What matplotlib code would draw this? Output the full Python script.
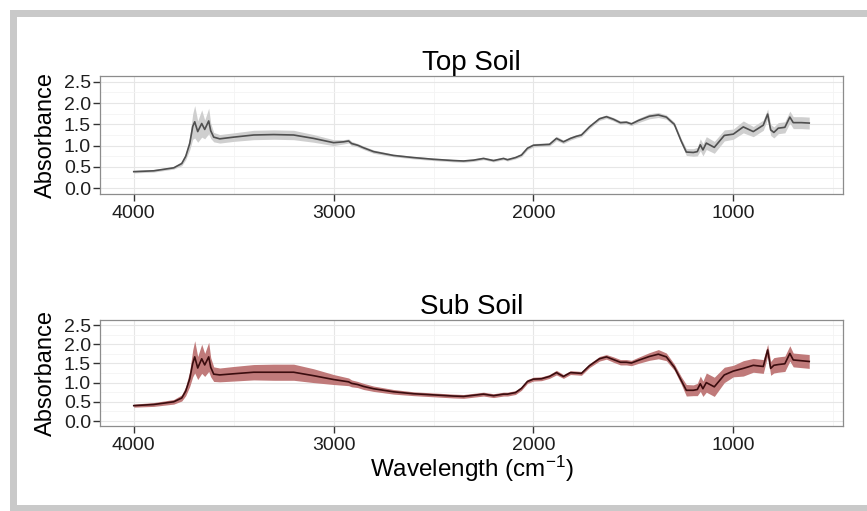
import numpy as np
import matplotlib
matplotlib.use('Agg')
import matplotlib.pyplot as plt
from matplotlib.patches import Rectangle

plt.rcParams['font.family'] = ['Liberation Sans', 'DejaVu Sans']
plt.rcParams['mathtext.fontset'] = 'custom'
plt.rcParams['mathtext.rm'] = 'Liberation Sans'
plt.rcParams['mathtext.it'] = 'Liberation Sans:italic'

# wavenumber grid (cm^-1), shared by both spectra
wavenumber = [4000, 3900, 3800, 3760, 3740, 3720, 3705, 3695, 3680, 3660,
              3645, 3625, 3615, 3600, 3570, 3500, 3400, 3300, 3200, 3100,
              3000, 2950, 2925, 2910, 2880, 2850, 2800, 2700, 2600, 2500,
              2400, 2350, 2300, 2250, 2200, 2150, 2130, 2090, 2060, 2030,
              2000, 1960, 1920, 1885, 1850, 1815, 1785, 1760, 1720, 1670,
              1635, 1600, 1565, 1535, 1510, 1475, 1420, 1375, 1335, 1295,
              1260, 1235, 1200, 1180, 1165, 1152, 1135, 1095, 1045, 1000,
              950, 900, 850, 828, 813, 797, 775, 742, 717, 700,
              660, 620]

top_mean = [0.39, 0.41, 0.48, 0.58, 0.75, 1.05, 1.45, 1.56, 1.33, 1.52,
            1.38, 1.58, 1.35, 1.20, 1.16, 1.20, 1.25, 1.26, 1.25, 1.17,
            1.07, 1.09, 1.11, 1.05, 1.01, 0.95, 0.86, 0.77, 0.72, 0.68,
            0.65, 0.64, 0.66, 0.70, 0.65, 0.70, 0.67, 0.72, 0.78, 0.94,
            1.01, 1.02, 1.03, 1.17, 1.09, 1.17, 1.22, 1.25, 1.44, 1.63,
            1.68, 1.62, 1.54, 1.55, 1.51, 1.59, 1.69, 1.72, 1.67, 1.50,
            1.10, 0.85, 0.84, 0.86, 1.02, 0.90, 1.06, 0.96, 1.24, 1.27,
            1.44, 1.33, 1.48, 1.74, 1.37, 1.31, 1.41, 1.43, 1.67, 1.54,
            1.54, 1.53]

top_sd = [0.03, 0.03, 0.03, 0.05, 0.08, 0.15, 0.30, 0.38, 0.25, 0.32,
          0.22, 0.30, 0.18, 0.11, 0.10, 0.10, 0.11, 0.11, 0.11, 0.09,
          0.07, 0.05, 0.05, 0.05, 0.04, 0.04, 0.04, 0.03, 0.03, 0.03,
          0.03, 0.03, 0.03, 0.03, 0.03, 0.03, 0.03, 0.03, 0.04, 0.04,
          0.04, 0.04, 0.04, 0.05, 0.04, 0.04, 0.04, 0.04, 0.04, 0.04,
          0.04, 0.04, 0.04, 0.04, 0.04, 0.05, 0.06, 0.06, 0.05, 0.05,
          0.06, 0.08, 0.09, 0.10, 0.14, 0.14, 0.15, 0.14, 0.13, 0.12,
          0.14, 0.12, 0.12, 0.12, 0.13, 0.13, 0.13, 0.13, 0.14, 0.14,
          0.14, 0.14]

sub_mean = [0.40, 0.43, 0.50, 0.60, 0.78, 1.10, 1.50, 1.67, 1.38, 1.62,
            1.46, 1.67, 1.40, 1.22, 1.20, 1.23, 1.27, 1.27, 1.27, 1.18,
            1.08, 1.04, 1.02, 0.98, 0.95, 0.90, 0.84, 0.76, 0.71, 0.68,
            0.65, 0.64, 0.67, 0.70, 0.66, 0.70, 0.70, 0.74, 0.85, 1.03,
            1.09, 1.10, 1.16, 1.26, 1.16, 1.26, 1.25, 1.24, 1.44, 1.62,
            1.67, 1.60, 1.53, 1.53, 1.51, 1.58, 1.68, 1.74, 1.67, 1.40,
            1.05, 0.80, 0.80, 0.82, 0.97, 0.84, 1.00, 0.89, 1.20, 1.30,
            1.37, 1.45, 1.42, 1.85, 1.37, 1.45, 1.47, 1.49, 1.76, 1.59,
            1.57, 1.55]

sub_sd = [0.04, 0.05, 0.06, 0.08, 0.12, 0.20, 0.35, 0.42, 0.30, 0.38,
          0.30, 0.38, 0.25, 0.19, 0.18, 0.19, 0.20, 0.21, 0.21, 0.18,
          0.13, 0.11, 0.10, 0.09, 0.08, 0.08, 0.07, 0.06, 0.05, 0.05,
          0.05, 0.05, 0.05, 0.05, 0.05, 0.05, 0.05, 0.05, 0.05, 0.05,
          0.05, 0.05, 0.05, 0.06, 0.05, 0.05, 0.05, 0.05, 0.05, 0.06,
          0.06, 0.07, 0.07, 0.07, 0.07, 0.08, 0.10, 0.12, 0.10, 0.08,
          0.10, 0.15, 0.14, 0.16, 0.20, 0.20, 0.25, 0.25, 0.20, 0.15,
          0.20, 0.18, 0.18, 0.15, 0.18, 0.20, 0.20, 0.20, 0.20, 0.18,
          0.18, 0.18]

panels = [
    ('Top Soil', top_mean, top_sd, '#4f4f4f', '#cfcfcf'),
    ('Sub Soil', sub_mean, sub_sd, '#3a0c0e', '#c07a7a'),
]

W, H = 867, 511
fig = plt.figure(figsize=(W / 100, H / 100), dpi=100)

# grey frame around the whole figure
fig.patches.append(Rectangle((10 / W, 0), 1, 1 - 10 / H, transform=fig.transFigure,
                             facecolor='#c9c9c9', edgecolor='none', zorder=-10))
fig.patches.append(Rectangle((17 / W, 6 / H), 1, (505 - 17) / H, transform=fig.transFigure,
                             facecolor='white', edgecolor='none', zorder=-9))

# panel boxes in pixels: (top, bottom)
boxes = [(76.4, 193.6), (320.2, 425.8)]
x0, x1 = 100, 843

wn = np.array(wavenumber)
for (title, mean, sd, lc, fc), (ptop, pbot) in zip(panels, boxes):
    ax = fig.add_axes([x0 / W, 1 - pbot / H, (x1 - x0) / W, (pbot - ptop) / H])
    m = np.array(mean)
    s = np.array(sd)
    ax.fill_between(wn, m - s, m + s, color=fc, lw=0, zorder=2)
    ax.plot(wn, m, color=lc, lw=1.2, zorder=3)

    ax.set_xlim(4169, 451)
    ax.set_ylim(-0.125, 2.625)
    ax.set_xticks([4000, 3000, 2000, 1000])
    ax.set_xticks([3500, 2500, 1500, 500], minor=True)
    ax.set_yticks([0.0, 0.5, 1.0, 1.5, 2.0, 2.5])
    ax.set_yticks([0.25, 0.75, 1.25, 1.75, 2.25], minor=True)
    ax.set_yticklabels(['0.0', '0.5', '1.0', '1.5', '2.0', '2.5'])
    ax.grid(which='major', color='#e6e6e6', lw=0.8)
    ax.grid(which='minor', color='#f4f4f4', lw=0.6)
    ax.set_axisbelow(True)
    for sp in ax.spines.values():
        sp.set_color('#8c8c8c')
        sp.set_linewidth(0.9)
    ax.tick_params(which='major', direction='out', length=5, width=1, color='#333333',
                   labelsize=14, labelcolor='#1e1e1e')
    ax.tick_params(axis='x', which='major', pad=3)
    ax.tick_params(axis='y', which='major', pad=1.5)
    ax.tick_params(which='minor', length=0)
    ax.set_title(title, fontsize=20, pad=4.5)
    ax.set_ylabel('Absorbance', fontsize=17)
    ax.yaxis.set_label_coords(-0.058, 0.5)

fig.text(471.5 / W, 1 - 477 / H, r'Wavelength (cm$^{-1}$)', fontsize=17.5,
         ha='center', va='baseline')

plt.savefig('out.png', dpi=100)
